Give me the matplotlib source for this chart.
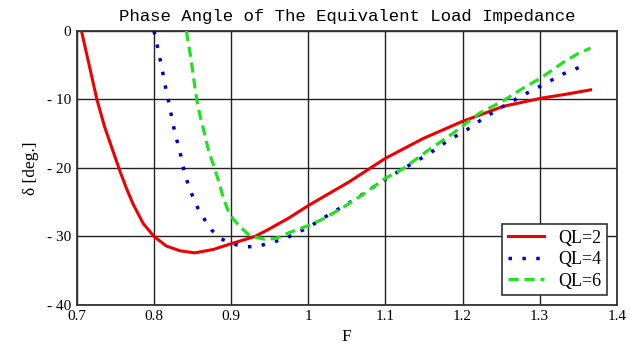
"""Phase angle of the equivalent load impedance versus normalised frequency F."""

import matplotlib

matplotlib.use("Agg")

import matplotlib.pyplot as plt

# QL = 2
F_QL2 = [0.706, 0.716, 0.726, 0.736, 0.747, 0.756, 0.764, 0.773, 0.786, 0.800,
         0.816, 0.834, 0.853, 0.877, 0.899, 0.931, 0.948, 0.975, 1.000, 1.052,
         1.100, 1.149, 1.200, 1.253, 1.303, 1.331, 1.366]
D_QL2 = [0.0, -5.0, -10.0, -14.0, -17.6, -20.5, -22.9, -25.3, -28.1, -30.0,
         -31.4, -32.1, -32.4, -31.9, -31.1, -30.0, -29.0, -27.3, -25.5, -22.1,
         -18.6, -15.7, -13.2, -11.0, -9.8, -9.3, -8.6]

# QL = 4
F_QL4 = [0.800, 0.805, 0.810, 0.815, 0.819, 0.824, 0.828, 0.833, 0.839, 0.844,
         0.850, 0.857, 0.866, 0.875, 0.886, 0.902, 0.919, 0.934, 0.948, 0.961,
         0.972, 0.996, 1.007, 1.030, 1.059, 1.087, 1.108, 1.131, 1.157, 1.180,
         1.206, 1.229, 1.253, 1.278, 1.302, 1.330, 1.358]
D_QL4 = [0.0, -2.5, -5.3, -8.2, -10.3, -13.2, -15.3, -17.3, -20.4, -22.3,
         -24.1, -25.9, -27.6, -29.1, -30.3, -31.1, -31.5, -31.5, -31.0, -30.6,
         -30.2, -28.9, -28.2, -26.6, -24.7, -22.6, -21.1, -19.6, -17.9, -16.1,
         -14.4, -12.6, -11.0, -9.4, -8.0, -6.3, -5.0]

# QL = 6
F_QL6 = [0.842, 0.847, 0.850, 0.853, 0.856, 0.860, 0.866, 0.871, 0.877, 0.884,
         0.890, 0.896, 0.903, 0.911, 0.924, 0.943, 0.958, 0.974, 1.003, 1.020,
         1.046, 1.072, 1.100, 1.123, 1.157, 1.187, 1.222, 1.253, 1.275, 1.301,
         1.333, 1.350, 1.366]
D_QL6 = [0.0, -3.4, -5.7, -8.2, -10.4, -12.5, -15.2, -17.6, -19.5, -22.0,
         -24.4, -26.2, -27.5, -28.5, -29.9, -30.4, -30.3, -29.5, -28.3, -27.4,
         -25.7, -23.8, -21.5, -20.1, -17.3, -15.0, -12.0, -10.2, -8.6, -6.9,
         -4.4, -3.3, -2.5]

X_TICKS = [0.7, 0.8, 0.9, 1.0, 1.1, 1.2, 1.3, 1.4]
X_LABELS = ["0.7", "0.8", "0.9", "1", "1.1", "1.2", "1.3", "1.4"]
Y_TICKS = [0, -10, -20, -30, -40]
Y_LABELS = ["0", "- 10", "- 20", "- 30", "- 40"]

SERIF = "Liberation Serif"

fig = plt.figure(figsize=(6.3, 3.6), dpi=100)
ax = fig.add_axes([0.122, 0.153, 0.857, 0.761])

ax.plot(F_QL2, D_QL2, color="#ee0000", lw=2.2, label="QL=2", zorder=3)
ax.plot(F_QL4, D_QL4, color="#0000cc", lw=2.5, linestyle=(0, (1, 3.0)),
        label="QL=4", zorder=3)
ax.plot(F_QL6, D_QL6, color="#22e022", lw=2.3, linestyle=(0, (3.2, 1.8)),
        label="QL=6", zorder=3)

ax.set_xlim(0.7, 1.4)
ax.set_ylim(-40, 0)
ax.set_xticks(X_TICKS)
ax.set_xticklabels(X_LABELS, fontfamily=SERIF, fontsize=11)
ax.set_yticks(Y_TICKS)
ax.set_yticklabels(Y_LABELS, fontfamily=SERIF, fontsize=11)
ax.tick_params(length=0, pad=4)
ax.grid(True, color="#222222", lw=1.0)
for s in ax.spines.values():
    s.set_color("#333333")
    s.set_linewidth(1.3)

ax.set_title("Phase Angle of The Equivalent Load Impedance",
             fontfamily="Liberation Mono", fontsize=12.5, pad=7)
ax.set_xlabel("F", fontfamily=SERIF, fontsize=12.5, labelpad=4)
ax.set_ylabel("δ [deg.]", fontfamily=SERIF, fontsize=12.5, labelpad=6)

leg = ax.legend(loc="lower right", prop={"family": SERIF, "size": 13},
                fancybox=False, framealpha=1, edgecolor="#333333",
                borderaxespad=0.55, handlelength=2.0, labelspacing=0.25,
                borderpad=0.3, handletextpad=0.8)
leg.get_frame().set_linewidth(1.2)

fig.savefig("out.png", dpi=100)
